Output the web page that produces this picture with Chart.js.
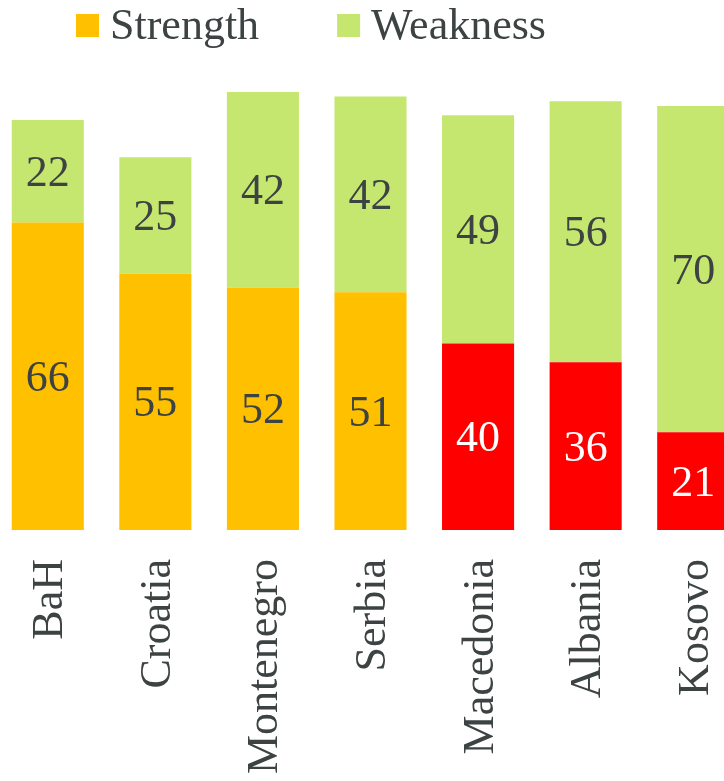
<!DOCTYPE html>
<html>
<head>
<meta charset="utf-8">
<script src="https://cdn.jsdelivr.net/npm/chart.js@4"></script>
<style>
  html, body { margin: 0; padding: 0; background: #fff; overflow: hidden; }
  #wrap { position: relative; width: 724px; height: 781px; }
</style>
</head>
<body>
<div id="wrap"><canvas id="chart"></canvas></div>
<script>
// Chart values
const countries = ['BaH', 'Croatia', 'Montenegro', 'Serbia', 'Macedonia', 'Albania', 'Kosovo'];
const strength = [66, 55, 52, 51, 40, 36, 21];
const weakness = [22, 25, 42, 42, 49, 56, 70];

const FONT = '"Liberation Serif", "DejaVu Serif", serif';
const TEXT = '#3d4343';
const ORANGE = '#FFC000';
const RED = '#FF0000';
const GREEN = '#C5E76F';

// first four countries are orange, the rest red
const strengthColors = strength.map((v, i) => i < 4 ? ORANGE : RED);

// the original picture is cropped: plot runs past both edges
const widePlot = {
    id: 'widePlot',
    afterLayout(chart) {
        const x = chart.scales.x;
        const left = -6, right = 747;
        x.left = left; x.right = right; x.width = right - left;
        chart.chartArea.left = left;
        chart.chartArea.right = right;
        chart.chartArea.width = right - left;
        x.configure();
    }
};

// numbers in the middle of every segment
const segmentLabels = {
    id: 'segmentLabels',
    afterDatasetsDraw(chart) {
        const ctx = chart.ctx;
        ctx.save();
        ctx.font = '44px ' + FONT;
        ctx.textAlign = 'center';
        ctx.textBaseline = 'middle';
        chart.data.datasets.forEach((ds, di) => {
            chart.getDatasetMeta(di).data.forEach((bar, i) => {
                const bg = Array.isArray(ds.backgroundColor) ? ds.backgroundColor[i] : ds.backgroundColor;
                ctx.fillStyle = bg === RED ? '#ffffff' : TEXT;
                ctx.fillText(String(ds.data[i]), bar.x, (bar.y + bar.base) / 2 + 3);
            });
        });
        ctx.restore();
    }
};

// legend on top, drawn by hand so spacing matches
const topLegend = {
    id: 'topLegend',
    afterDraw(chart) {
        const ctx = chart.ctx;
        ctx.save();
        ctx.font = '44px ' + FONT;
        ctx.textBaseline = 'alphabetic';
        ctx.textAlign = 'left';
        let x = 76;
        const legendColors = [ORANGE, GREEN];
        chart.data.datasets.forEach((ds, di) => {
            ctx.fillStyle = legendColors[di];
            ctx.fillRect(x, 14, 23, 23);
            ctx.fillStyle = TEXT;
            ctx.fillText(ds.label, x + 34, 39);
            x += 34 + ctx.measureText(ds.label).width + 78;
        });
        ctx.restore();
    }
};

const chart = new Chart(document.getElementById('chart'), {
    type: 'bar',
    data: {
        labels: countries,
        datasets: [
            { label: 'Strength', data: strength, backgroundColor: strengthColors },
            { label: 'Weakness', data: weakness, backgroundColor: GREEN }
        ]
    },
    options: {
        responsive: true,
        maintainAspectRatio: false,
        animation: false,
        events: [],
        layout: { padding: { top: 64, left: 0, right: 0, bottom: 0 } },
        datasets: { bar: { barPercentage: 0.67, categoryPercentage: 1 } },
        plugins: {
            legend: { display: false },
            tooltip: { enabled: false }
        },
        scales: {
            x: {
                stacked: true,
                grid: { display: false, drawTicks: false },
                border: { display: false },
                ticks: {
                    minRotation: 90,
                    maxRotation: 90,
                    padding: 29,
                    labelOffset: 3,
                    color: TEXT,
                    font: { family: FONT, size: 44 }
                },
                afterFit(scale) { scale.height = 251; }
            },
            y: {
                stacked: true,
                display: false,
                min: 0,
                max: 100
            }
        }
    },
    plugins: [widePlot, segmentLabels, topLegend]
});
</script>
</body>
</html>
